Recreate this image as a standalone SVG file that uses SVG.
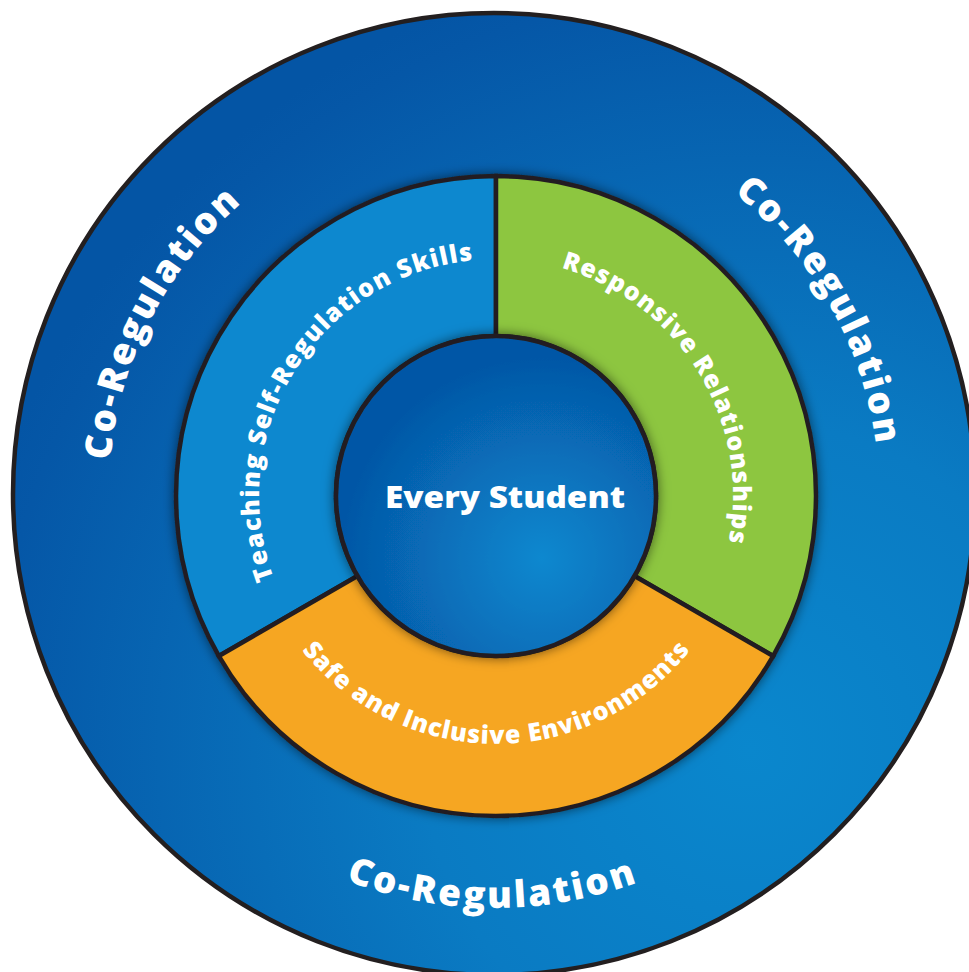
<svg xmlns="http://www.w3.org/2000/svg" xmlns:xlink="http://www.w3.org/1999/xlink" width="969" height="972" viewBox="0 0 969 972">
  <style>
    .edge { stroke: #231f20; stroke-width: 4.5; stroke-linejoin: miter; }
    .lbl { fill: #ffffff; font-family: "Open Sans", "Liberation Sans", sans-serif; font-weight: 800; }
    .outer { font-size: 37px; }
    .mid { font-size: 25px; }
  </style>
  <defs>
    <radialGradient id="gOuter" gradientUnits="userSpaceOnUse" cx="750" cy="750" r="800">
      <stop offset="0" stop-color="#0a87cd"/>
      <stop offset="0.41" stop-color="#0a7bc3"/>
      <stop offset="0.95" stop-color="#0557a7"/>
      <stop offset="1" stop-color="#0455a5"/>
    </radialGradient>
    <radialGradient id="gInner" gradientUnits="userSpaceOnUse" cx="542" cy="558" r="200">
      <stop offset="0" stop-color="#0a88cf"/>
      <stop offset="1" stop-color="#0557a6"/>
    </radialGradient>
    <filter id="shadow" x="-20%" y="-20%" width="140%" height="140%">
      <feDropShadow dx="0" dy="0" stdDeviation="6" flood-color="#000" flood-opacity="0.55"/>
    </filter>
    <path id="pLeft" d="M 262.3 801.5 A 385 385 0 0 1 606.6 125.8"/>
    <path id="pRight" d="M 365.5 131.1 A 385 385 0 0 1 738.9 791.1"/>
    <path id="pBottom" d="M 85.8 563.0 A 414 414 0 0 0 901.2 568.7"/>
    <path id="pTeach" d="M 337.4 672.1 A 237 237 0 0 1 584.8 276.3"/>
    <path id="pResp" d="M 409.5 275.3 A 237 237 0 0 1 652.7 673.8"/>
    <path id="pSafe" d="M 251.8 539.1 A 248 248 0 0 0 740.2 539.1"/>
  </defs>

  <g id="co-regulation">
    <circle cx="494" cy="494" r="481" fill="url(#gOuter)" class="edge"/>
    <text class="lbl outer"><textPath href="#pLeft" xlink:href="#pLeft" startOffset="50%" text-anchor="middle" textLength="296" lengthAdjust="spacing">Co-Regulation</textPath></text>
    <text class="lbl outer"><textPath href="#pRight" xlink:href="#pRight" startOffset="50%" text-anchor="middle" textLength="296" lengthAdjust="spacing">Co-Regulation</textPath></text>
    <text class="lbl outer"><textPath href="#pBottom" xlink:href="#pBottom" startOffset="50%" text-anchor="middle" textLength="298" lengthAdjust="spacing">Co-Regulation</textPath></text>
  </g>

  <g id="ring" filter="url(#shadow)">
    <g id="teaching">
      <path d="M 218.87 656 A 320 320 0 0 1 496 176 L 496 336 A 160 160 0 0 0 357.44 576 Z" fill="#0a88cf" class="edge"/>
    </g>
    <g id="responsive">
      <path d="M 496 176 A 320 320 0 0 1 773.13 656 L 634.56 576 A 160 160 0 0 0 496 336 Z" fill="#8dc63f" class="edge"/>
    </g>
    <g id="safe">
      <path d="M 773.13 656 A 320 320 0 0 1 218.87 656 L 357.44 576 A 160 160 0 0 0 634.56 576 Z" fill="#f6a620" class="edge"/>
    </g>
  </g>

  <g id="ring-labels">
    <text class="lbl mid"><textPath href="#pTeach" xlink:href="#pTeach" startOffset="50%" text-anchor="middle" textLength="433" lengthAdjust="spacing">Teaching Self-Regulation Skills</textPath></text>
    <text class="lbl mid"><textPath href="#pResp" xlink:href="#pResp" startOffset="50%" text-anchor="middle" textLength="353" lengthAdjust="spacing">Responsive Relationships</textPath></text>
    <text class="lbl mid"><textPath href="#pSafe" xlink:href="#pSafe" startOffset="50%" text-anchor="middle" textLength="446" lengthAdjust="spacing">Safe and Inclusive Environments</textPath></text>
  </g>

  <g id="every-student">
    <circle cx="496" cy="496" r="160" fill="url(#gInner)" class="edge" filter="url(#shadow)"/>
    <text class="lbl" x="505" y="508" font-size="30" text-anchor="middle" textLength="240" lengthAdjust="spacingAndGlyphs">Every Student</text>
  </g>
</svg>
